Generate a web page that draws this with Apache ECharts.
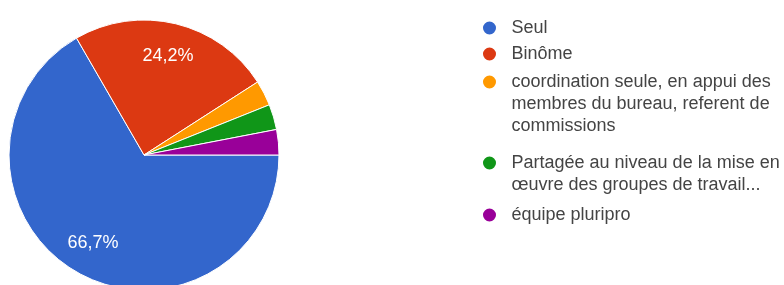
<!DOCTYPE html>
<html>
<head>
<meta charset="utf-8">
<script src="https://cdn.jsdelivr.net/npm/echarts@6/dist/echarts.min.js"></script>
<style>
    html, body { margin: 0; padding: 0; background: #fff; }
    #container { width: 784px; height: 285px; }
</style>
</head>
<body>
<div id="container"></div>
<script>
// données du graphique
var categories = [
    'Seul',
    'Binôme',
    'coordination seule, en appui des membres du bureau, referent de commissions',
    'Partagée au niveau de la mise en œuvre des groupes de travail...',
    'équipe pluripro',
]
var counts = [22, 8, 1, 1, 1]
var colors = ['#3366cc', '#dc3912', '#ff9900', '#109618', '#990099']

// texte de la légende, coupé comme dans l'original
var legendLines = [
    ['Seul'],
    ['Binôme'],
    ['coordination seule, en appui des', 'membres du bureau, referent de', 'commissions'],
    ['Partagée au niveau de la mise en', 'œuvre des groupes de travail...'],
    ['équipe pluripro'],
]
// centre vertical de la première ligne de chaque entrée
var legendFirstLineY = [28, 54, 82, 163, 215]

var font = '"Liberation Sans", Arial, sans-serif'
var lineH = 22
var iconH = 15

var total = counts.reduce((a, b) => a + b, 0)

var pieData = function () {
    var data = []
    for (let i = 0; i < categories.length; i++) {
        data.push({
            name: categories[i],
            value: counts[i],
            itemStyle: { color: colors[i] },
        })
    }
    return data
}

// une légende par entrée ; des lignes vides devant le texte
// pour que le rond reste en face de la première ligne
var makeLegends = function () {
    var legends = []
    for (let i = 0; i < categories.length; i++) {
        let lines = legendLines[i]
        let extra = lines.length - 1
        let blank = []
        for (let k = 0; k < extra; k++) {
            blank.push('')
        }
        let text = blank.concat(lines).join('\n')
        legends.push({
            orient: 'vertical',
            left: 481,
            top: legendFirstLineY[i] - lineH / 2 - extra * lineH,
            padding: 0,
            itemGap: 0,
            icon: 'circle',
            itemWidth: 34,
            itemHeight: iconH,
            selectedMode: false,
            formatter: function () {
                return text
            },
            textStyle: {
                fontFamily: font,
                fontSize: 18,
                lineHeight: lineH,
                color: '#444',
            },
            data: [categories[i]],
        })
    }
    return legends
}

var myChart = echarts.init(document.getElementById('container'), null, { renderer: 'canvas' })

var option = {
    animation: false,
    backgroundColor: '#fff',
    legend: makeLegends(),
    series: [
        {
            type: 'pie',
            center: [144, 155],
            radius: 135,
            startAngle: 0,
            clockwise: true,
            silent: true,
            label: { show: false },
            labelLine: { show: false },
            itemStyle: { borderColor: '#fff', borderWidth: 1 },
            data: pieData(),
        },
        {
            // anneau invisible, seulement pour placer les pourcentages
            type: 'pie',
            center: [144, 155],
            radius: [62, 136],
            startAngle: 0,
            clockwise: true,
            silent: true,
            avoidLabelOverlap: false,
            itemStyle: { color: 'rgba(0,0,0,0)', borderWidth: 0 },
            labelLine: { show: false },
            label: {
                show: true,
                position: 'inside',
                fontFamily: font,
                fontSize: 18,
                color: '#fff',
                formatter: function (p) {
                    var pct = p.value / total * 100
                    if (pct < 5) {
                        return ''
                    }
                    return pct.toFixed(1).replace('.', ',') + '%'
                },
            },
            data: categories.map((c, i) => ({ name: c, value: counts[i] })),
        },
    ],
}

myChart.setOption(option)
</script>
</body>
</html>
